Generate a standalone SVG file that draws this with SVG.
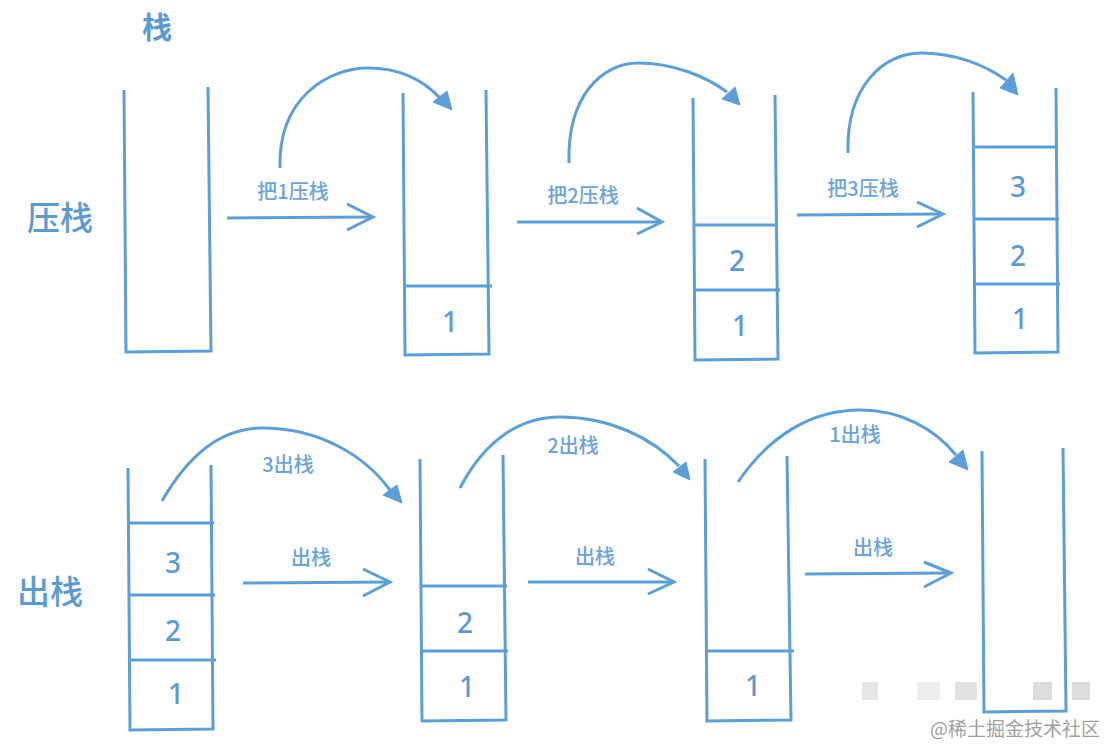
<svg xmlns="http://www.w3.org/2000/svg" width="1108" height="747" viewBox="0 0 1108 747">
<style>
.s{fill:none;stroke:#5b9fd8;stroke-width:3;stroke-linejoin:miter}
.d{stroke:#5b9fd8;stroke-width:3}
.c{fill:none;stroke:#5b9fd8;stroke-width:3}
.h{fill:#5b9fd8;stroke:#5b9fd8;stroke-width:1}
.n{font-family:"Noto Sans","Open Sans",sans-serif;font-size:28px;font-weight:500;fill:#5b9bd5;text-anchor:middle}
.l{font-family:"Noto Sans CJK SC","Noto Sans",sans-serif;font-size:20px;font-weight:500;fill:#6aa5da;text-anchor:middle}
.b{font-family:"Noto Sans CJK SC","Noto Sans",sans-serif;font-size:33px;font-weight:500;fill:#5b9bd5;text-anchor:middle}
</style>
<rect width="1108" height="747" fill="#ffffff"/>
<g id="titles">
<text class="b" x="157" y="38" style="font-weight:bold;font-size:30px">栈</text>
<text class="b" x="60" y="230">压栈</text>
<text class="b" x="50" y="604">出栈</text>
</g>
<g id="stackA"><path class="s" d="M124,90 L126,352 L211,351 L208,87"/></g>
<g id="stackB"><path class="s" d="M403,93 L405,355 L489,354 L486,90"/><line class="d" x1="405" y1="286" x2="492" y2="286"/><text class="n" x="450" y="332">1</text></g>
<g id="stackC"><path class="s" d="M693,98 L695,360 L778,359 L775,95"/><line class="d" x1="695" y1="225" x2="778" y2="225"/><line class="d" x1="695" y1="290" x2="780" y2="290"/><text class="n" x="737" y="271">2</text><text class="n" x="740" y="336">1</text></g>
<g id="stackD"><path class="s" d="M973,92 L975,353 L1058,352 L1056,88"/><line class="d" x1="975" y1="147" x2="1058" y2="147"/><line class="d" x1="975" y1="219" x2="1059" y2="219"/><line class="d" x1="975" y1="284" x2="1060" y2="284"/><text class="n" x="1018" y="197">3</text><text class="n" x="1018" y="266">2</text><text class="n" x="1020" y="329">1</text></g>
<g id="stackE"><path class="s" d="M128,468 L130,730 L213,729 L211,465"/><line class="d" x1="130" y1="523" x2="214" y2="523"/><line class="d" x1="130" y1="595" x2="215" y2="595"/><line class="d" x1="130" y1="660" x2="216" y2="660"/><text class="n" x="173" y="573">3</text><text class="n" x="173" y="641">2</text><text class="n" x="176" y="704">1</text></g>
<g id="stackF"><path class="s" d="M420,459 L422,721 L506,720 L503,455"/><line class="d" x1="422" y1="586" x2="507" y2="586"/><line class="d" x1="422" y1="651" x2="508" y2="651"/><text class="n" x="465" y="633">2</text><text class="n" x="467" y="697">1</text></g>
<g id="stackG"><path class="s" d="M705,459 L707,721 L791,720 L787,456"/><line class="d" x1="707" y1="651" x2="794" y2="651"/><text class="n" x="753" y="696">1</text></g>
<g id="stackH"><path class="s" d="M982,451 L984,712 L1066,711 L1063,448"/></g>
<g id="connectors">
<path class="c" d="M280,168 C278,98 328,68 368,68 C400,68 424,81 440,98"/>
<polygon class="h" points="452,110 433,102 447,91"/>
<path class="c" d="M569,163 C567,95 603,63 638,63 C673,63 705,76 727,92"/>
<polygon class="h" points="740,105 722,99 735,87"/>
<path class="c" d="M848,153 C846,86 884,53 921,53 C955,53 985,65 1006,80"/>
<polygon class="h" points="1018,95 1000,88 1013,73"/>
<path class="c" d="M162,501 C190,452 224,428 262,428 C320,428 365,456 390,490"/>
<polygon class="h" points="402,503 383,495 397,485"/>
<path class="c" d="M460,488 C485,440 520,417 560,417 C610,417 652,438 679,466"/>
<polygon class="h" points="690,480 673,472 686,462"/>
<path class="c" d="M738,482 C770,435 812,410 860,410 C900,410 934,428 956,455"/>
<polygon class="h" points="968,470 949,462 963,450"/>
<line class="d" x1="227" y1="218" x2="372" y2="217"/><polyline class="c" points="347,204 373,217 347,230"/>
<line class="d" x1="517" y1="222" x2="661" y2="222"/><polyline class="c" points="637,208 662,222 637,234"/>
<line class="d" x1="797" y1="215" x2="942" y2="214"/><polyline class="c" points="917,202 943,214 917,227"/>
<line class="d" x1="243" y1="583" x2="389" y2="582"/><polyline class="c" points="363,569 390,582 363,596"/>
<line class="d" x1="528" y1="582" x2="673" y2="582"/><polyline class="c" points="648,569 674,582 648,594"/>
<line class="d" x1="805" y1="574" x2="950" y2="573"/><polyline class="c" points="924,562 951,573 924,587"/>
</g>
<g id="labels">
<text class="l" x="293" y="199">把1压栈</text>
<text class="l" x="583" y="203">把2压栈</text>
<text class="l" x="863" y="196">把3压栈</text>
<text class="l" x="288" y="472">3出栈</text>
<text class="l" x="311" y="565">出栈</text>
<text class="l" x="573" y="453">2出栈</text>
<text class="l" x="595" y="564">出栈</text>
<text class="l" x="855" y="442">1出栈</text>
<text class="l" x="873" y="555">出栈</text>
</g>
<g id="watermark">
<rect x="862" y="682" width="16" height="18" fill="#e6e6e6"/>
<rect x="917" y="682" width="23" height="18" fill="#eeeeee"/>
<rect x="955" y="682" width="22" height="18" fill="#e2e2e2"/>
<rect x="1033" y="682" width="19" height="18" fill="#dcdcdc"/>
<rect x="1072" y="682" width="18" height="18" fill="#dcdcdc"/>
<text x="1100" y="736" font-family="'Noto Sans CJK SC',sans-serif" font-size="19" fill="#a0a0a0" text-anchor="end">@稀土掘金技术社区</text>
</g>
</svg>
